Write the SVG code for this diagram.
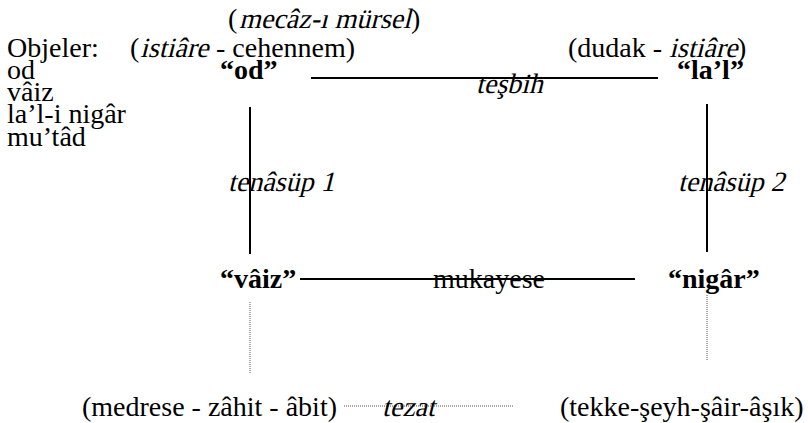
<svg xmlns="http://www.w3.org/2000/svg" width="808" height="423" viewBox="0 0 808 423">
<style>
text{font-family:'Liberation Serif','Times New Roman',serif;font-size:28px;fill:#000}
.b{font-weight:bold}
.solid{stroke:#000;stroke-width:2;fill:none}
.dot{stroke:#555;stroke-width:1;stroke-dasharray:1 1;fill:none}
</style>
<rect width="808" height="423" fill="#fff"/>
<g id="legend">
<text x="7" y="57">Objeler:</text>
<text x="7" y="79">od</text>
<text x="7" y="101">vâiz</text>
<text x="7" y="123">la’l-i nigâr</text>
<text x="7" y="146">mu’tâd</text>
</g>
<g id="connectors">
<line class="solid" x1="311" y1="78" x2="658" y2="78"/>
<line class="solid" x1="250" y1="107" x2="250" y2="254"/>
<line class="solid" x1="707" y1="104" x2="707" y2="252"/>
<line class="solid" x1="300" y1="279" x2="635" y2="279"/>
<line class="dot" x1="250" y1="302" x2="250" y2="373"/>
<line class="dot" x1="707" y1="295" x2="707" y2="361"/>
<line class="dot" x1="344" y1="406" x2="513" y2="406"/>
<text transform="translate(476 93) skewX(-14)">teşbih</text>
<text transform="translate(228 191) skewX(-14)">tenâsüp 1</text>
<text transform="translate(678 191) skewX(-14)">tenâsüp 2</text>
<text x="433" y="288">mukayese</text>
<text transform="translate(382 416) skewX(-14)">tezat</text>
</g>
<g id="od">
<text x="228" y="28">(</text>
<text transform="translate(239 28) skewX(-14)">mecâz-ı mürsel</text>
<text x="411" y="28">)</text>
<text x="130" y="57">(</text>
<text transform="translate(140 57) skewX(-14)">istiâre</text>
<text x="216" y="57">- cehennem)</text>
<text class="b" x="220" y="79">“od”</text>
</g>
<g id="lal">
<text x="568" y="57">(dudak -</text>
<text transform="translate(669 57) skewX(-14)">istiâre</text>
<text x="737" y="57">)</text>
<text class="b" x="677" y="79">“la’l”</text>
</g>
<g id="vaiz">
<text class="b" x="220" y="288">“vâiz”</text>
<text x="82" y="416">(medrese - zâhit - âbit)</text>
</g>
<g id="nigar">
<text class="b" x="668" y="288">“nigâr”</text>
<text x="560" y="416">(tekke-şeyh-şâir-âşık)</text>
</g>
</svg>
